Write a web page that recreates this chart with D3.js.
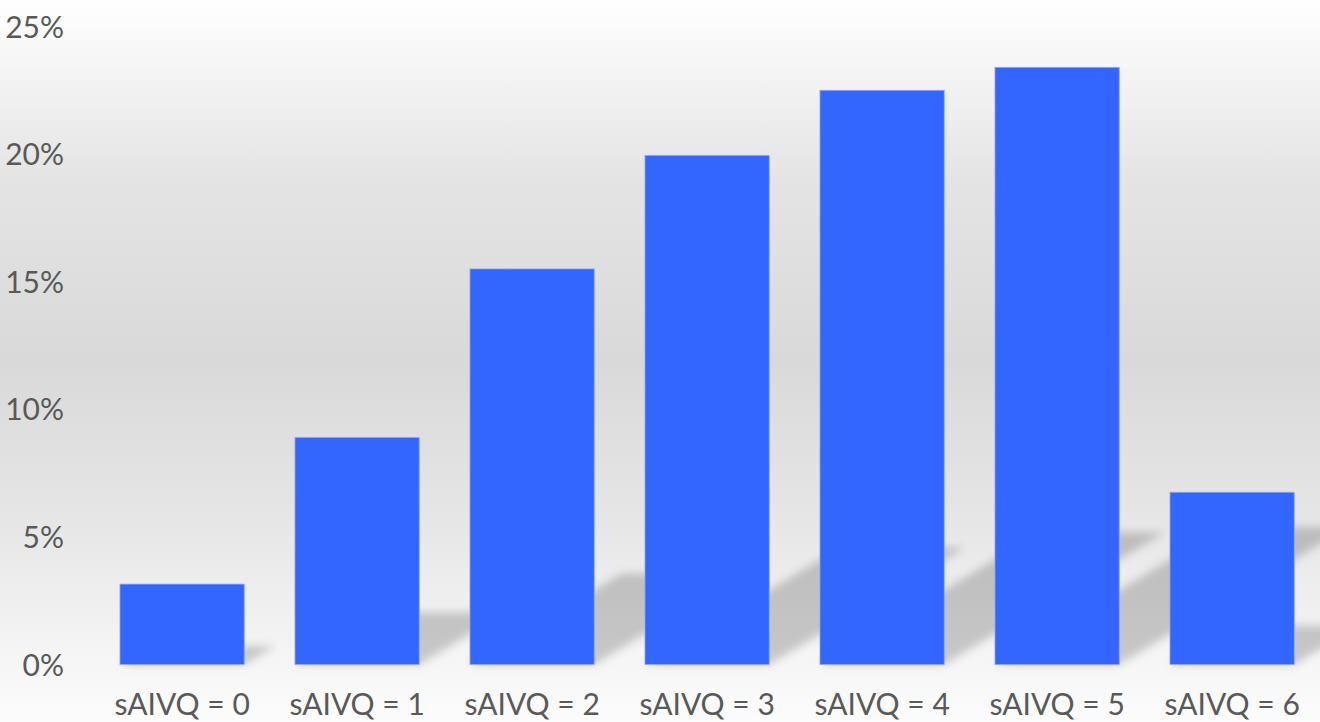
<!DOCTYPE html>
<html>
<head>
<meta charset="utf-8">
<script src="https://cdn.jsdelivr.net/npm/d3@7"></script>
<style>
  html, body { margin: 0; padding: 0; background: #fff; }
  svg { display: block; }
  text { font-family: Lato, "Open Sans", sans-serif; fill: #595959; }
</style>
</head>
<body>
<script>
// Share of respondents per sAIVQ score
const categories = ["sAIVQ = 0", "sAIVQ = 1", "sAIVQ = 2", "sAIVQ = 3", "sAIVQ = 4", "sAIVQ = 5", "sAIVQ = 6"];
const shares = [3.15, 8.9, 15.5, 19.95, 22.5, 23.4, 6.75];
const yTicks = [0, 5, 10, 15, 20, 25];

const W = 1320, H = 722;
const svg = d3.select("body").append("svg").attr("width", W).attr("height", H);
const defs = svg.append("defs");

// soft grey backdrop, darkest around the middle
const bg = defs.append("linearGradient").attr("id", "bg").attr("x1", 0).attr("y1", 0).attr("x2", 0).attr("y2", 1);
[[0, "#ffffff"], [0.25, "#e4e4e4"], [0.5, "#d9d9d9"], [0.72, "#e6e6e6"], [0.92, "#f6f6f6"], [1, "#fcfcfc"]]
  .forEach(([o, c]) => bg.append("stop").attr("offset", o).attr("stop-color", c));
svg.append("rect").attr("width", W).attr("height", H).attr("fill", "url(#bg)");

const blur = defs.append("filter").attr("id", "soft")
  .attr("x", "-20%").attr("y", "-20%").attr("width", "140%").attr("height", "140%");
blur.append("feGaussianBlur").attr("stdDeviation", 4.5);

const x = d3.scaleBand().domain(categories).range([94.6, 1319.6]).paddingInner(0.29).paddingOuter(0.145);
const y = d3.scaleLinear().domain([0, 25]).range([664.5, 26.5]);

// cast shadows: each bar projected up and to the right
const shadowScale = 0.23, shadowSlope = 0.6;
svg.append("g").attr("filter", "url(#soft)")
  .selectAll("path").data(categories).join("path")
  .attr("d", (c, i) => {
    const x0 = x(c), x1 = x0 + x.bandwidth(), base = y(0);
    const sh = shadowScale * (base - y(shares[i]));
    const dx = sh / shadowSlope;
    return `M${x0},${base}L${x1},${base}L${x1 + dx},${base - sh}L${x0 + dx},${base - sh}Z`;
  })
  .attr("fill", "#000").attr("fill-opacity", 0.19);

// bars
svg.append("g").selectAll("rect").data(categories).join("rect")
  .attr("x", c => x(c))
  .attr("width", x.bandwidth())
  .attr("y", (c, i) => y(shares[i]))
  .attr("height", (c, i) => y(0) - y(shares[i]))
  .attr("fill", "#3366ff")
  .attr("stroke", "#8fa6ff").attr("stroke-width", 0.8);

// y axis labels
const yAxis = d3.axisLeft(y).tickValues(yTicks).tickFormat(d => d + "%").tickSize(0).tickPadding(0);
const gy = svg.append("g").attr("transform", "translate(64,0)").call(yAxis);
gy.select(".domain").remove();
gy.selectAll("text").attr("font-size", 30).style("font-family", "Lato, 'Open Sans', sans-serif").attr("fill", "#555555").attr("dy", "0.35em");

// x axis labels
const xAxis = d3.axisBottom(x).tickSize(0).tickPadding(0);
const gx = svg.append("g").attr("transform", "translate(0,694)").call(xAxis);
gx.select(".domain").remove();
gx.selectAll("text").attr("font-size", 30).style("font-family", "Lato, 'Open Sans', sans-serif").attr("fill", "#555555").attr("dy", "0.71em");
</script>
</body>
</html>
